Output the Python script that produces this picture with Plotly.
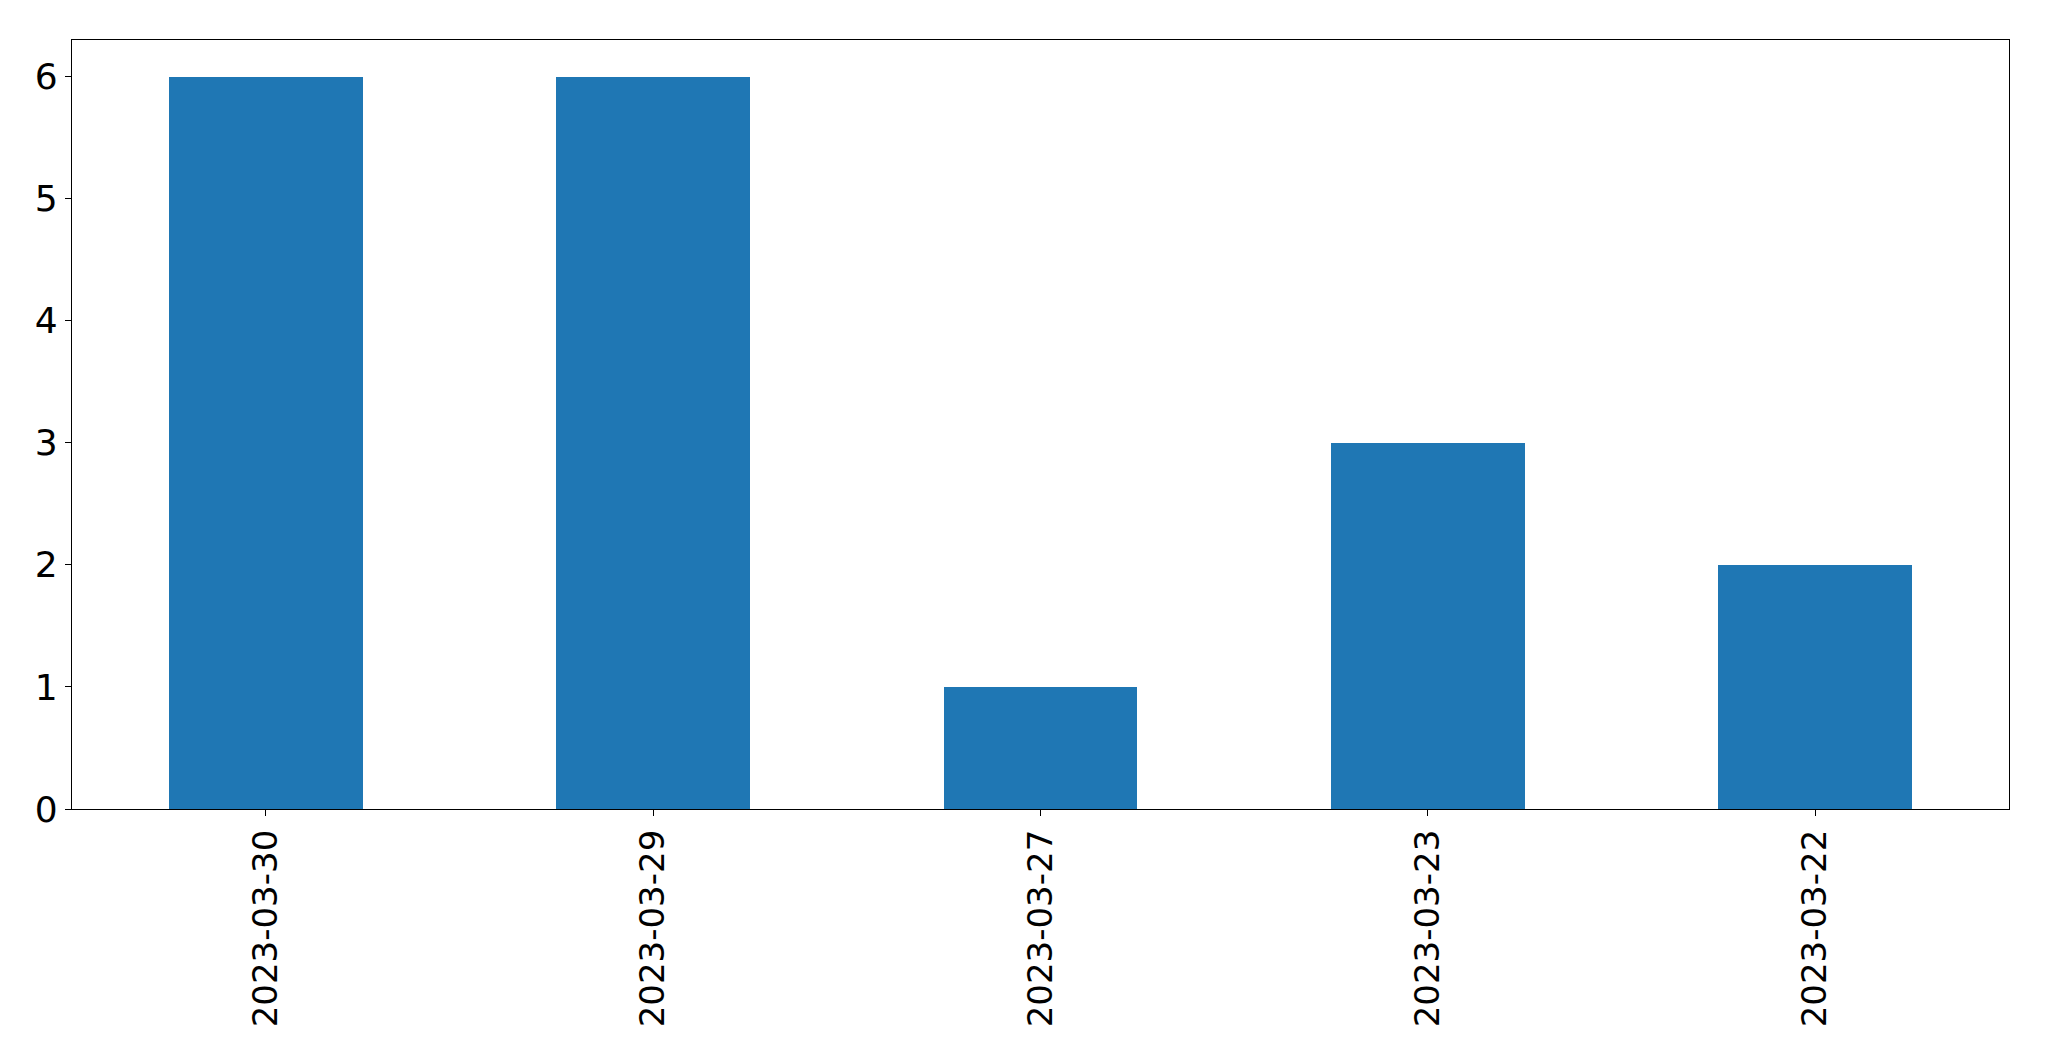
import plotly.graph_objects as go

dates = ["2023-03-30", "2023-03-29", "2023-03-27", "2023-03-23", "2023-03-22"]
counts = [6, 6, 1, 3, 2]
y_ticks = [0, 1, 2, 3, 4, 5, 6]

fig = go.Figure(go.Bar(x=dates, y=counts, width=0.5, marker=dict(color="#1f77b4", line=dict(width=0))))

fig.update_layout(
    width=2041, height=1053,
    margin=dict(l=64, r=40, t=32, b=252, pad=0),
    paper_bgcolor="white", plot_bgcolor="white",
    font=dict(family="DejaVu Sans", size=34, color="black"),
    showlegend=False,
    bargap=0,
)
fig.update_xaxes(
    type="category", range=[-0.5, 4.5], tickangle=-90,
    tickfont=dict(size=34),
    showline=True, linecolor="black", linewidth=1.3, mirror=True,
    ticks="outside", ticklen=6, tickcolor="black", tickwidth=1.3,
    showgrid=False, zeroline=False,
)
fig.update_yaxes(
    range=[0, 6.3], tickvals=y_ticks,
    tickfont=dict(size=36),
    showline=True, linecolor="black", linewidth=1.3, mirror=True,
    ticks="outside", ticklen=6, tickcolor="black", tickwidth=1.3,
    showgrid=False, zeroline=False,
)

fig.write_html("out.html")
